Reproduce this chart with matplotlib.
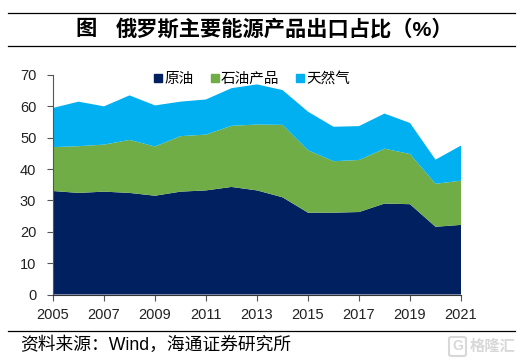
import numpy as np
import matplotlib.pyplot as plt
from matplotlib.lines import Line2D
from matplotlib.patches import FancyBboxPatch

plt.rcParams['font.family'] = ['Liberation Sans', 'Noto Sans CJK SC', 'DejaVu Sans']

years = np.arange(2005, 2022)
crude = [33, 32.4, 32.8, 32.4, 31.5, 32.8, 33.2, 34.3, 33.2, 31, 26.1, 26.1, 26.3, 29, 28.8, 21.6, 22.2]
products = [14, 14.9, 15, 16.9, 15.7, 17.7, 17.8, 19.5, 21, 23.1, 19.9, 16.4, 16.6, 17.5, 16, 13.7, 14.1]
gas = [12.5, 14.2, 12.2, 14.2, 13.1, 11, 11.2, 12, 12.8, 11.1, 12.3, 11, 10.8, 11.2, 9.9, 7.7, 11.2]
labels = ['原油', '石油产品', '天然气']
colors = ['#002060', '#70AD47', '#00B0F0']

W, H = 526, 362
fig = plt.figure(figsize=(W / 100, H / 100), dpi=100)
ax = fig.add_axes([53 / W, 1 - 294.5 / H, (461 - 53) / W, (294.5 - 75) / H])

ax.stackplot(years, crude, products, gas, colors=colors, linewidth=0)
ax.set_xlim(2005, 2021)
ax.set_ylim(0, 70)
ax.set_xticks(years[::2])
ax.set_yticks(np.arange(0, 71, 10))
ax.tick_params(labelsize=10.5, length=4, width=0.8, color='#555555', labelcolor='#222222')
ax.tick_params(axis='y', pad=8)
ax.tick_params(axis='x', pad=6)
ax.spines['top'].set_visible(False)
ax.spines['right'].set_visible(False)
ax.spines['left'].set_color('#555555')
ax.spines['bottom'].set_color('#333333')

# 图例
handles = [Line2D([], [], marker='s', ls='', color=c, markersize=6) for c in colors]
fig.legend(handles, labels, loc='center', bbox_to_anchor=(252 / W, 1 - 79 / H), ncol=3, frameon=False,
           fontsize=10.5, handlelength=0.6, handletextpad=0.1, columnspacing=1.15, borderpad=0, labelspacing=0)

# 标题和上下横线
for y in [12.5, 46, 330.5]:
    fig.add_artist(Line2D([8 / W, 515 / W], [1 - y / H, 1 - y / H], color='black', lw=0.9))
fig.text(86 / W, 1 - 29.5 / H, '图', fontsize=15.3, fontweight='bold', ha='center', va='center')
fig.text(116 / W, 1 - 29.5 / H, '俄罗斯主要能源产品出口占比（%）', fontsize=15.3, fontweight='bold', va='center')
fig.text(20 / W, 1 - 345 / H, '资料来源：Wind，海通证券研究所', fontsize=12.8, va='center')

# 水印
fig.add_artist(FancyBboxPatch((449 / W, 1 - 356 / H), 17 / W, 19 / H, transform=fig.transFigure,
                              boxstyle='round,pad=0,rounding_size=0.005', fc='none', ec='#d8d8d8', lw=1.5))
fig.text(457.5 / W, 1 - 346.5 / H, 'G', fontsize=10, color='#d8d8d8', ha='center', va='center', fontweight='bold')
fig.text(470 / W, 1 - 346.5 / H, '格隆汇', fontsize=11, color='#d8d8d8', va='center', fontweight='bold')

plt.savefig('out.png', dpi=100)
